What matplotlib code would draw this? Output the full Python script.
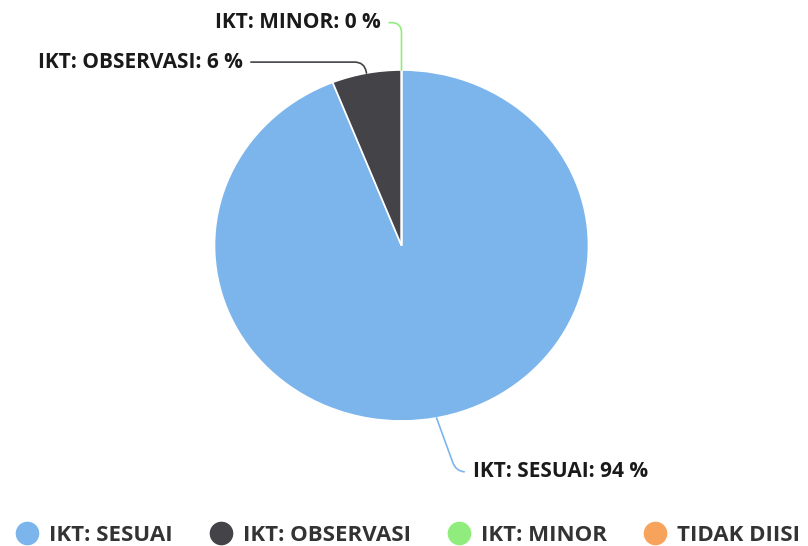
import matplotlib.pyplot as plt
from matplotlib.lines import Line2D
import numpy as np

plt.rcParams['font.family'] = ['Open Sans', 'DejaVu Sans']

# data
categories = ["IKT: SESUAI", "IKT: OBSERVASI", "IKT: MINOR", "TIDAK DIISI"]
values = [94, 6, 0, 0]
colors = ["#7cb5ec", "#434348", "#90ed7d", "#f7a35c"]

fig = plt.figure(figsize=(8.08, 5.46), dpi=100)
W, H = 808, 546
cx, cy, rx, ry = 401.5, 245.5, 187, 175.5
ax = fig.add_axes([(cx - rx) / W, (H - cy - ry) / H, 2 * rx / W, 2 * ry / H])

wedges, _ = ax.pie(values, colors=colors, startangle=90, counterclock=False,
                   wedgeprops=dict(edgecolor="white", linewidth=1.2))
ax.set_aspect("auto")
ax.set_xlim(-1, 1)
ax.set_ylim(-1, 1)

# data labels with connectors (positions in axes units)
label_pos = {
    0: (0.38, -1.29, "left", -70),
    1: (-0.85, 1.045, "right", -80),
    2: (-0.11, 1.27, "right", 90),
}
for i, (tx, ty, ha, angb) in label_pos.items():
    w = wedges[i]
    mid = np.deg2rad((w.theta1 + w.theta2) / 2)
    px, py = np.cos(mid), np.sin(mid)
    ax.annotate(f"{categories[i]}: {values[i]} %", xy=(px, py), xytext=(tx, ty),
                ha=ha, va="center", fontsize=15, fontweight="bold", color="#1a1a1a",
                annotation_clip=False,
                arrowprops=dict(arrowstyle="-", color=colors[i], lw=1.2,
                                shrinkA=4, shrinkB=0,
                                connectionstyle=f"angle,angleA=0,angleB={angb},rad=10"))

handles = [Line2D([], [], marker="o", linestyle="none", markersize=16,
                  markerfacecolor=c, markeredgecolor=c) for c in colors]
fig.legend(handles, categories, loc="center", bbox_to_anchor=(0.505, 0.019),
           ncol=4, frameon=False, prop=dict(size=16, weight="bold"),
           handletextpad=0.5, columnspacing=1.65, handlelength=1.0,
           labelcolor="#333333", borderpad=0, borderaxespad=0)

fig.savefig("out.png", dpi=100)
